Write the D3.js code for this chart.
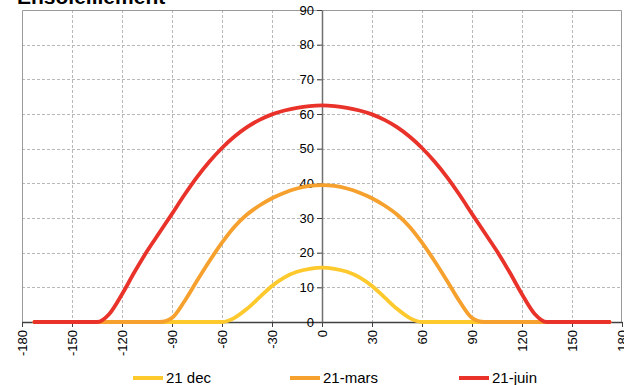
<!DOCTYPE html>
<html>
<head>
<meta charset="utf-8">
<script src="https://cdn.jsdelivr.net/npm/d3@7"></script>
<style>
  html, body { margin: 0; padding: 0; background: #fff; }
  svg { display: block; font-family: "Liberation Sans", Arial, sans-serif; }
</style>
</head>
<body>
<svg id="chart" width="624" height="385"></svg>
<script>
// Hour angle (degrees) in half-hour steps, -172.5 .. 172.5 (47 points)
const hourAngle = d3.range(-172.5, 172.5 + 0.001, 7.5);

// Sun elevation (degrees) for each hour angle, one array per date
const elevDec = [
  0, 0, 0, 0, 0, 0, 0, 0, 0, 0, 0, 0, 0, 0, 0, 0,
  1.2, 3.8, 7.1, 10.4, 12.9, 14.5, 15.35,
  15.7,
  15.35, 14.5, 12.9, 10.4, 7.1, 3.8, 1.2,
  0, 0, 0, 0, 0, 0, 0, 0, 0, 0, 0, 0, 0, 0, 0, 0
];
const elevMars = [
  0, 0, 0, 0, 0, 0, 0, 0, 0, 0, 0,
  1.2, 6.0, 11.9, 17.6, 22.9, 27.5, 31.0, 33.6, 35.7, 37.3, 38.5, 39.25,
  39.5,
  39.25, 38.5, 37.3, 35.7, 33.6, 31.0, 27.5, 22.9, 17.6, 11.9, 6.0, 1.2,
  0, 0, 0, 0, 0, 0, 0, 0, 0, 0, 0
];
const elevJuin = [
  0, 0, 0, 0, 0, 0,
  2.4, 8.0, 14.4, 20.4, 25.8, 31.2, 36.7, 41.8, 46.3, 50.2, 53.5, 56.2, 58.3, 59.9, 61.0, 61.8, 62.3,
  62.5,
  62.3, 61.8, 61.0, 59.9, 58.3, 56.2, 53.5, 50.2, 46.3, 41.8, 36.7, 31.2, 25.8, 20.4, 14.4, 8.0, 2.4,
  0, 0, 0, 0, 0, 0
];

const seriesNames = ["21 dec", "21-mars", "21-juin"];
const seriesValues = [elevDec, elevMars, elevJuin];
const seriesColors = ["#fdc92c", "#f6a02e", "#e9322a"];

const xTicks = d3.range(-180, 181, 30);
const yTicks = d3.range(0, 91, 10);

const svg = d3.select("#chart");
const plotLeft = 22, plotRight = 622, plotTop = 10, plotBottom = 322;

const x = d3.scaleLinear().domain([-180, 180]).range([plotLeft, plotRight]);
const y = d3.scaleLinear().domain([0, 90]).range([plotBottom, plotTop]);

// Title (mostly above the frame)
svg.append("text")
  .attr("x", 17).attr("y", 4)
  .attr("font-size", 21).attr("font-weight", "bold")
  .attr("fill", "#000")
  .text("Ensoleillement");

// Dashed grid
const grid = svg.append("g").attr("stroke", "#b8b8b8").attr("stroke-dasharray", "3,2").attr("stroke-width", 1);
grid.selectAll("line.v").data(xTicks.filter(d => d !== 0 && Math.abs(d) !== 180))
  .join("line").attr("class", "v")
  .attr("x1", d => Math.round(x(d)) + 0.5).attr("x2", d => Math.round(x(d)) + 0.5)
  .attr("y1", plotTop).attr("y2", plotBottom);
grid.selectAll("line.h").data(yTicks.filter(d => d > 0 && d < 90))
  .join("line").attr("class", "h")
  .attr("x1", plotLeft).attr("x2", plotRight)
  .attr("y1", d => Math.round(y(d)) + 0.5).attr("y2", d => Math.round(y(d)) + 0.5);

// Plot frame
svg.append("path")
  .attr("d", `M${plotLeft + 0.5},${plotBottom}V${plotTop + 0.5}H${plotRight - 0.5}V${plotBottom}`)
  .attr("fill", "none").attr("stroke", "#9a9a9a").attr("stroke-width", 1);

// Axes (plain hyphen for negative labels)
const fmt = d => String(d);
const xAxis = svg.append("g")
  .attr("transform", `translate(0,${plotBottom})`)
  .call(d3.axisBottom(x).tickValues(xTicks).tickSize(5).tickSizeOuter(0).tickFormat(fmt));
xAxis.select(".domain").attr("stroke", "#404040").attr("stroke-width", 1.5);
xAxis.selectAll(".tick line").attr("stroke", "#404040");
xAxis.selectAll(".tick text")
  .attr("font-size", 13).attr("fill", "#000")
  .attr("font-family", "'Liberation Sans', Arial, sans-serif")
  .attr("transform", "rotate(-90)")
  .attr("text-anchor", "end")
  .attr("x", -8).attr("y", 0).attr("dy", "0.35em");

const yAxis = svg.append("g")
  .attr("transform", `translate(${x(0)},0)`)
  .call(d3.axisLeft(y).tickValues(yTicks).tickSize(5).tickSizeOuter(0).tickFormat(fmt));
yAxis.select(".domain").attr("stroke", "#707070").attr("stroke-width", 1.5);
yAxis.selectAll(".tick line").attr("stroke", "#404040");
yAxis.selectAll(".tick text")
  .attr("font-size", 13).attr("fill", "#000")
  .attr("font-family", "'Liberation Sans', Arial, sans-serif")
  .attr("x", -8);

// Elevation curves, drawn dec → mars → juin so June sits on top
const line = d3.line()
  .x((d, i) => x(hourAngle[i]))
  .y(d => y(d))
  .curve(d3.curveMonotoneX);

svg.append("g").selectAll("path")
  .data(seriesValues)
  .join("path")
  .attr("d", line)
  .attr("fill", "none")
  .attr("stroke", (d, i) => seriesColors[i])
  .attr("stroke-width", 3.8)
  .attr("stroke-linecap", "round")
  .attr("stroke-linejoin", "round");

// Legend
const legendX = [133, 290, 459];
const legend = svg.append("g").selectAll("g")
  .data(seriesNames)
  .join("g")
  .attr("transform", (d, i) => `translate(${legendX[i]},378)`);
legend.append("line")
  .attr("x1", 0).attr("x2", 30).attr("y1", 0).attr("y2", 0)
  .attr("stroke", (d, i) => seriesColors[i]).attr("stroke-width", 4);
legend.append("text")
  .attr("x", 33).attr("y", 0).attr("dy", "0.35em")
  .attr("font-size", 15).attr("fill", "#000")
  .text(d => d);
</script>
</body>
</html>
